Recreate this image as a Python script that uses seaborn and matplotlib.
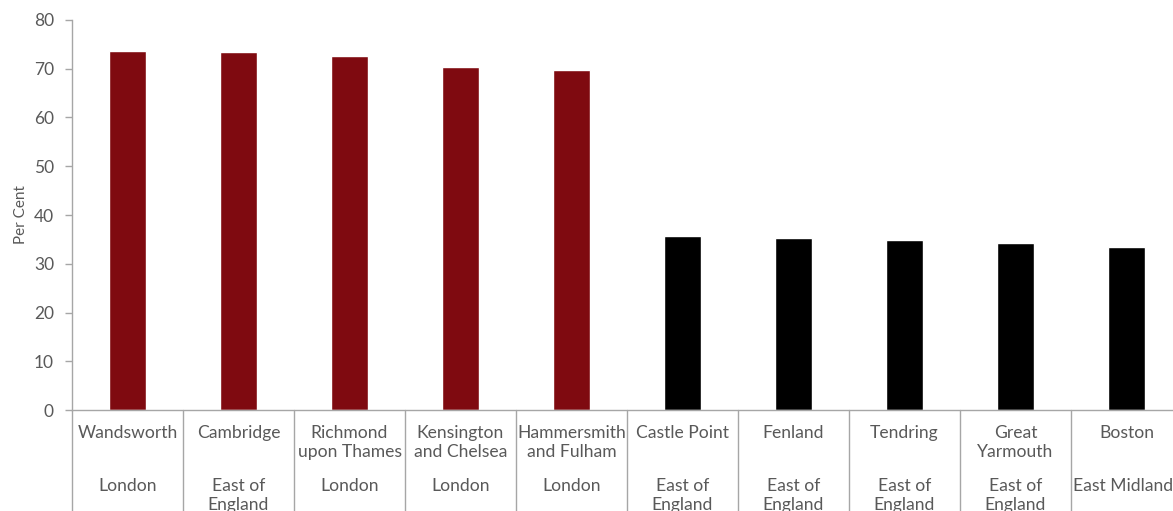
import matplotlib
matplotlib.use("Agg")
import matplotlib.pyplot as plt
import matplotlib.transforms as mtransforms
import pandas as pd
import seaborn as sns

# Districts, their regions and the share (per cent) for each
districts = ["Wandsworth", "Cambridge", "Richmond\nupon Thames", "Kensington\nand Chelsea",
             "Hammersmith\nand Fulham", "Castle Point", "Fenland", "Tendring",
             "Great\nYarmouth", "Boston"]
regions = ["London", "East of\nEngland", "London", "London", "London",
           "East of\nEngland", "East of\nEngland", "East of\nEngland", "East of\nEngland",
           "East Midlands"]
values = [73.6, 73.5, 72.7, 70.3, 69.7, 35.7, 35.3, 34.8, 34.2, 33.4]
groups = ["top", "top", "top", "top", "top", "bottom", "bottom", "bottom", "bottom", "bottom"]

group_colors = {"top": "#7F0A10", "bottom": "#000000"}
y_ticks = [0, 10, 20, 30, 40, 50, 60, 70, 80]

sns.set_theme(style="white")
plt.rcParams["font.family"] = ["Lato", "DejaVu Sans"]

df = pd.DataFrame({"district": districts, "value": values, "group": groups})

fig = plt.figure(figsize=(11.73, 5.11), dpi=100)
# plot area runs a little past the right edge of the canvas
ax = fig.add_axes([72 / 1173, 101 / 511, 1110 / 1173, 390 / 511])

sns.barplot(data=df, x="district", y="value", hue="group", palette=group_colors,
            dodge=False, width=0.325, legend=False, ax=ax, saturation=1)

axis_grey = "#A6A6A6"
text_grey = "#595959"

ax.set_xlim(-0.5, len(districts) - 0.5)
ax.set_ylim(0, 80)
ax.set_yticks(y_ticks)
ax.set_yticklabels([str(t) for t in y_ticks], fontsize=12.5, color=text_grey)
ax.tick_params(axis="y", direction="out", length=5, width=1, color=axis_grey, pad=8, left=True)
ax.set_xticks([])
ax.set_xlabel("")
ax.set_ylabel("Per Cent", fontsize=11, color=text_grey, labelpad=4)

for side in ["top", "right"]:
    ax.spines[side].set_visible(False)
for side in ["left", "bottom"]:
    ax.spines[side].set_color(axis_grey)
    ax.spines[side].set_linewidth(1)

# Category separators running down through the label area
trans = mtransforms.blended_transform_factory(ax.transData, ax.transAxes)
for i in range(len(districts)):
    ax.plot([i - 0.5, i - 0.5], [0, -0.3], transform=trans, color=axis_grey,
            lw=1, clip_on=False)

# Two-level category labels: district, then region
for i, (d, r) in enumerate(zip(districts, regions)):
    ax.annotate(d, xy=(i, 0), xycoords=trans, xytext=(0, -15), textcoords="offset pixels",
                ha="center", va="top", fontsize=12.6, color=text_grey, linespacing=1.25)
    ax.annotate(r, xy=(i, 0), xycoords=trans, xytext=(0, -68), textcoords="offset pixels",
                ha="center", va="top", fontsize=12.6, color=text_grey, linespacing=1.25)

fig.savefig("out.png", dpi=100)
